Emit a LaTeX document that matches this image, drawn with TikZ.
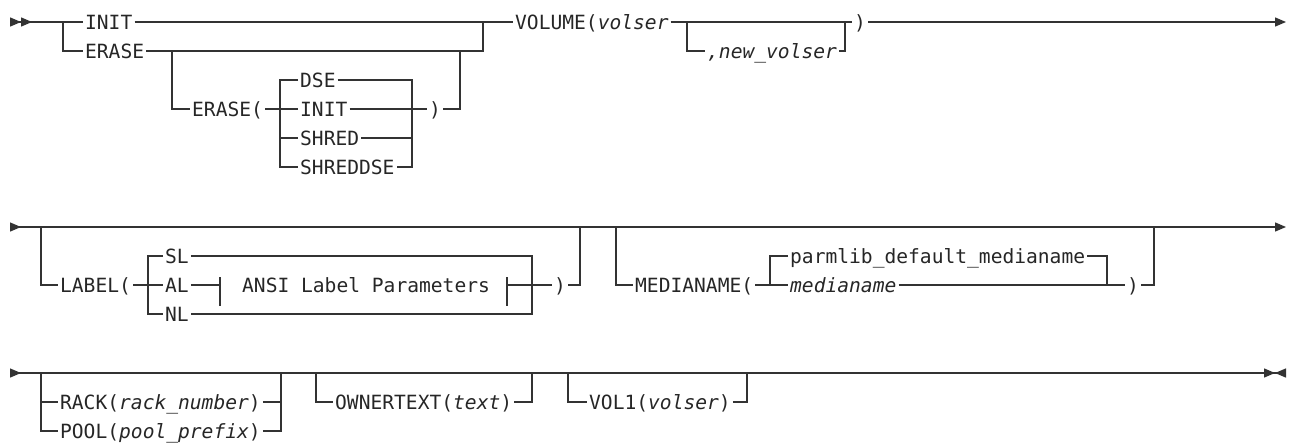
\documentclass[tikz,border=0pt]{standalone}
\usepackage{fontspec}
\setmainfont{DejaVu Sans Mono}
\usetikzlibrary{arrows.meta}
\tikzstyle{kw}=[anchor=west,inner xsep=1.5pt,inner ysep=0pt,text height=14.3pt,text depth=0pt]
\tikzstyle{every node}=[font=\fontsize{19.6}{22}\selectfont,text=black!85]

\begin{document}
\begin{tikzpicture}[x=1pt,y=-1pt,line width=1.3pt,draw=black!80,>={Triangle[length=11pt,width=9pt]}]
  \useasboundingbox (0,0) rectangle (1289,445);
  % first line
  \coordinate (start1) at (10,22);
  \coordinate (end1) at (1286,22);
  \node[kw] (init) at (83,22) {INIT};
  \node[kw] (erase) at (83,51) {ERASE};
  \node[kw] (erasep) at (190,109) {ERASE(};
  \node[kw] (dse) at (298,80) {DSE};
  \node[kw] (einit) at (298,109) {INIT};
  \node[kw] (shred) at (298,138) {SHRED};
  \node[kw] (shreddse) at (298,167) {SHREDDSE};
  \node[kw] (erasecl) at (427,109) {)};
  \node[kw] (volume) at (513,22) {VOLUME(\textit{volser}};
  \node[kw] (newvol) at (705,51) {\textit{,new\_volser}};
  \node[kw] (volcl) at (852,22) {)};
  \draw[>>-] (start1) -- (init.west);
  \draw (63,22) |- (erase.west);
  \draw (init.east) -- (volume.west);
  \draw (erase.east) -| (483,22);
  \draw (172,51) |- (erasep.west);
  \draw (erasep.east) -- (einit.west);
  \draw (dse.west) -| (280,167) -- (shreddse.west);
  \draw (280,138) -- (shred.west);
  \draw (dse.east) -| (412,167) -- (shreddse.east);
  \draw (shred.east) -- (412,138);
  \draw (einit.east) -- (erasecl.west);
  \draw (erasecl.east) -| (460,51);
  \draw (volume.east) -- (volcl.west);
  \draw (687,22) |- (newvol.west);
  \draw (newvol.east) -| (845,22);
  \draw[->] (volcl.east) -- (end1);
  % second line
  \coordinate (start2) at (10,227);
  \coordinate (end2) at (1286,227);
  \node[kw] (label) at (58,285) {LABEL(};
  \node[kw] (sl) at (163,256) {SL};
  \node[kw] (al) at (163,285) {AL};
  \node[kw] (nl) at (163,314) {NL};
  \node[kw] (ansi) at (240,285) {ANSI Label Parameters};
  \node[kw] (labcl) at (552,285) {)};
  \node[kw] (media) at (633,285) {MEDIANAME(};
  \node[kw] (parm) at (788,256) {parmlib\_default\_medianame};
  \node[kw] (mname) at (788,285) {\textit{medianame}};
  \node[kw] (medcl) at (1125,285) {)};
  \coordinate (tickl) at (220,285);
  \coordinate (tickr) at (507,285);
  \draw[>->] (start2) -- (end2);
  \draw (41,227) |- (label.west);
  \draw (label.east) -- (al.west);
  \draw (sl.west) -| (148,314) -- (nl.west);
  \draw (al.east) -- (tickl);
  \draw ([yshift=8pt]tickl) -- ([yshift=-21pt]tickl);
  \draw ([yshift=8pt]tickr) -- ([yshift=-21pt]tickr);
  \draw (tickr) -- (labcl.west);
  \draw (sl.east) -| (532,314) -- (nl.east);
  \draw (labcl.east) -| (580,227);
  \draw (616,227) |- (media.west);
  \draw (media.east) -- (mname.west);
  \draw (parm.west) -| (770,285);
  \draw (parm.east) -| (1107,285);
  \draw (mname.east) -- (medcl.west);
  \draw (medcl.east) -| (1154,227);
  % third line
  \coordinate (start3) at (10,373);
  \coordinate (end3) at (1286,373);
  \node[kw] (rack) at (58,402) {RACK(\textit{rack\_number})};
  \node[kw] (pool) at (58,431) {POOL(\textit{pool\_prefix})};
  \node[kw] (owner) at (333,402) {OWNERTEXT(\textit{text})};
  \node[kw] (vol1) at (587,402) {VOL1(\textit{volser})};
  \draw[>-><] (start3) -- (end3);
  \draw (41,373) |- (pool.west);
  \draw (41,402) -- (rack.west);
  \draw (rack.east) -- (281,402);
  \draw (pool.east) -| (281,373);
  \draw (316,373) |- (owner.west);
  \draw (owner.east) -| (532,373);
  \draw (568,373) |- (vol1.west);
  \draw (vol1.east) -| (747,373);
\end{tikzpicture}
\end{document}
